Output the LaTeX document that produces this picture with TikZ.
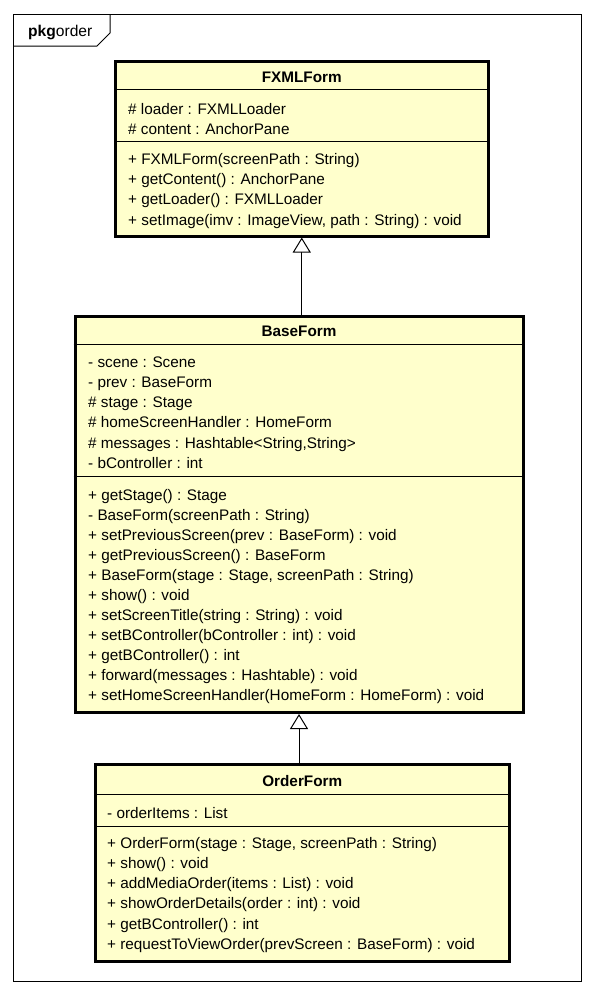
\documentclass[tikz,border=0pt]{standalone}
\usepackage{fontspec}
\setmainfont{Liberation Sans}
\usetikzlibrary{arrows.meta}
\definecolor{classfill}{RGB}{255,255,204}
\begin{document}
\begin{tikzpicture}[x=1pt,y=-1pt,
  box/.style={draw, line width=3pt, fill=classfill, inner sep=0pt, anchor=north west},
  sep/.style={line width=1pt},
  txt/.style={anchor=base west, inner sep=0pt, font=\fontsize{15.3}{18}\selectfont},
  ttl/.style={anchor=base, inner sep=0pt, font=\fontsize{15.3}{18}\selectfont\bfseries},
  gen/.style={-{Triangle[open, length=15pt, width=18pt, fill=white, line width=1pt]}, line width=1pt}
]
\useasboundingbox[fill=white] (0,0) rectangle (594,994);
% package frame
\draw[line width=1pt] (13,14) rectangle (581,981);
\draw[line width=1pt] (13,46) -- (97,46) -- (110,33) -- (110,14);
\node[anchor=base west, inner sep=0pt, font=\fontsize{15.6}{18}\selectfont] (pkg) at (28,36.7) {\textbf{pkg}order};

% FXMLForm
\node[box, minimum width=372.5pt, minimum height=174.5pt] (fxml) at (114,60) {};
\draw[sep] (fxml.west |- {(0,89.3)}) -- (fxml.east |- {(0,89.3)});
\draw[sep] (fxml.west |- {(0,141.5)}) -- (fxml.east |- {(0,141.5)});
\node[ttl] (fxmlt) at (fxml.center |- {(0,82)}) {FXMLForm};
\foreach \t [count=\i] in {{\# loader : FXMLLoader},{\# content : AnchorPane}}
  \node[txt] (fa\i) at (128,{114.3+(\i-1)*20.2}) {\t};
\foreach \t [count=\i] in {{+ FXMLForm(screenPath : String)},{+ getContent() : AnchorPane},{+ getLoader() : FXMLLoader},{+ setImage(imv : ImageView, path : String) : void}}
  \node[txt] (fm\i) at (128,{164.5+(\i-1)*20.2}) {\t};

% BaseForm
\node[box, minimum width=448pt, minimum height=396pt] (base) at (73.5,315) {};
\draw[sep] (base.west |- {(0,344)}) -- (base.east |- {(0,344)});
\draw[sep] (base.west |- {(0,476.7)}) -- (base.east |- {(0,476.7)});
\node[ttl] (baset) at (base.center |- {(0,336.7)}) {BaseForm};
\foreach \t [count=\i] in {{- scene : Scene},{- prev : BaseForm},{\# stage : Stage},{\# homeScreenHandler : HomeForm},{\# messages : Hashtable<String,String>},{- bController : int}}
  \node[txt] (ba\i) at (88,{367.3+(\i-1)*20.2}) {\t};
\foreach \t [count=\i] in {{+ getStage() : Stage},{- BaseForm(screenPath : String)},{+ setPreviousScreen(prev : BaseForm) : void},{+ getPreviousScreen() : BaseForm},{+ BaseForm(stage : Stage, screenPath : String)},{+ show() : void},{+ setScreenTitle(string : String) : void},{+ setBController(bController : int) : void},{+ getBController() : int},{+ forward(messages : Hashtable) : void},{+ setHomeScreenHandler(HomeForm : HomeForm) : void}}
  \node[txt] (bm\i) at (88,{500+(\i-1)*20.07}) {\t};

% OrderForm
\node[box, minimum width=413.5pt, minimum height=197pt] (order) at (94,763) {};
\draw[sep] (order.west |- {(0,794)}) -- (order.east |- {(0,794)});
\draw[sep] (order.west |- {(0,826)}) -- (order.east |- {(0,826)});
\node[ttl] (ordert) at (order.center |- {(0,786.7)}) {OrderForm};
\node[txt] (oa1) at (107,818.3) {- orderItems : List};
\foreach \t [count=\i] in {{+ OrderForm(stage : Stage, screenPath : String)},{+ show() : void},{+ addMediaOrder(items : List) : void},{+ showOrderDetails(order : int) : void},{+ getBController() : int},{+ requestToViewOrder(prevScreen : BaseForm) : void}}
  \node[txt] (om\i) at (107,{848.3+(\i-1)*20.2}) {\t};

% generalizations
\draw[gen] (base.north -| fxml.south) -- (fxml.south);
\draw[gen] (order.north -| base.south) -- (base.south);
\end{tikzpicture}
\end{document}
